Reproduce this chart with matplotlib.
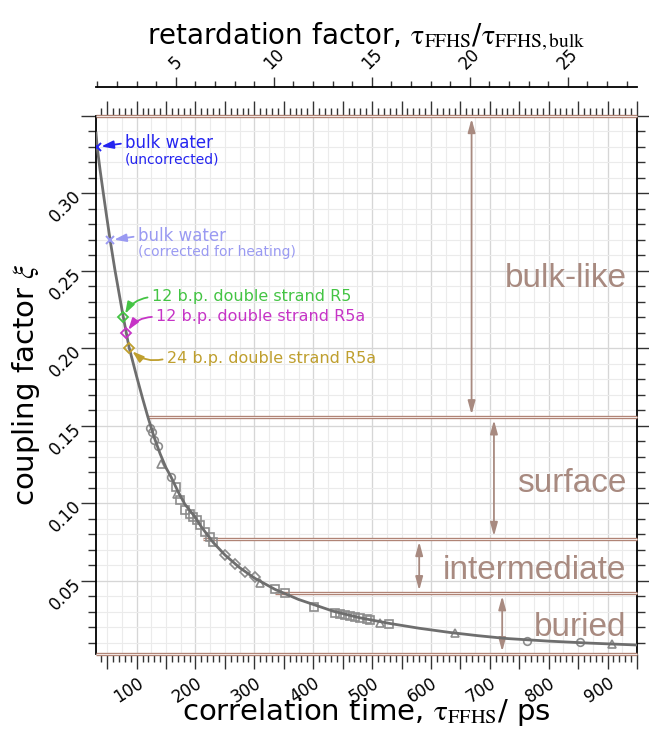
import matplotlib
matplotlib.use('Agg')
import matplotlib.pyplot as plt
from matplotlib.ticker import MultipleLocator, FixedLocator, FuncFormatter
import numpy as np

plt.rcParams['font.family'] = ['DejaVu Sans']
plt.rcParams['mathtext.fontset'] = 'stix'

# FFHS model curve
curve_tau = [31, 33, 38, 43.5, 48, 55, 63, 70, 77, 82, 87, 100, 110, 119, 130, 140,
             150, 158, 170, 182, 199, 210, 230, 250, 275, 301, 335, 375, 434, 480,
             530, 580, 632, 680, 728, 800, 870, 950]
curve_xi = [0.339, 0.330, 0.315, 0.300, 0.288, 0.270, 0.251, 0.236, 0.221, 0.211,
            0.201, 0.182, 0.168, 0.156, 0.1425, 0.132, 0.123, 0.1175, 0.108, 0.0995,
            0.0914, 0.0849, 0.0749, 0.0668, 0.0586, 0.0517, 0.0446, 0.0381, 0.0305,
            0.0262, 0.0226, 0.0195, 0.0168, 0.0147, 0.0129, 0.0112, 0.0099, 0.0087]

# measured spin-label sites (grey, open symbols)
circ_tau = [122.8, 126.7, 130, 135.8, 158.4, 763, 853]
circ_xi = [0.1485, 0.146, 0.141, 0.1373, 0.1173, 0.0115, 0.0104]
tri_tau = [141.4, 168, 309.5, 513, 640.6, 907]
tri_xi = [0.1253, 0.1061, 0.0485, 0.0227, 0.0163, 0.0092]
sq_tau = [166.4, 173.7, 182, 190, 196, 202, 207.6, 216, 224.6, 230, 335, 352, 401,
          437, 445, 454, 462, 471, 479, 491, 496, 529]
sq_xi = [0.1108, 0.1023, 0.0958, 0.093, 0.091, 0.0894, 0.0861, 0.0818, 0.0786,
         0.0754, 0.0446, 0.0425, 0.033, 0.0292, 0.0287, 0.0281, 0.0274, 0.0266,
         0.0259, 0.0253, 0.0248, 0.0221]
dia_tau = [250, 267, 284, 301]
dia_xi = [0.0668, 0.061, 0.056, 0.0528]

# labelled reference samples
bulk_unc = (33, 0.330)
bulk_cor = (54.8, 0.2698)
r5_12 = (77.4, 0.220)
r5a_12 = (82, 0.2097)
r5a_24 = (87.6, 0.200)

tau_bulk = 33.3
top_ticks = [5, 10, 15, 20, 25]

regions = ['bulk-like', 'surface', 'intermediate', 'buried']
bounds = [0.35, 0.1556, 0.0771, 0.0421, 0.0027]
bound_start = [31, 117, 213, 335, 31]
arrow_x = [669, 707, 580, 721]
label_y = [0.2397, 0.1076, 0.0511, 0.0146]

brown = '#a88a80'
grey = '#8c8c8c'

fig = plt.figure(figsize=(6.49, 7.32), dpi=100)
ax = fig.add_axes([96 / 649, 1 - 654.3 / 732, 541 / 649, 538.3 / 732])
ax.set_xlim(31, 950)
ax.set_ylim(0.0027, 0.35)

# grid
for x in np.arange(25, 950, 25):
    ax.axvline(x, color='#ebebeb', lw=0.8, zorder=0)
for x in np.arange(100, 950, 100):
    ax.axvline(x, color='#d6d6d6', lw=0.9, zorder=0)
for y in np.arange(0.01, 0.35, 0.01):
    ax.axhline(y, color='#ebebeb', lw=0.8, zorder=0)
for y in np.arange(0.05, 0.35, 0.05):
    ax.axhline(y, color='#d6d6d6', lw=0.9, zorder=0)

# region boundaries (double brown lines)
for y, x0 in zip(bounds, bound_start):
    ax.plot([x0, 950], [y, y], color='#ad7f70', lw=2.4, solid_capstyle='butt',
            clip_on=False, zorder=3)
    ax.plot([x0, 950], [y, y], color='#f2e6e2', lw=0.8, solid_capstyle='butt',
            clip_on=False, zorder=3)

# region arrows and names
for name, xa, ytop, ybot, yl in zip(regions, arrow_x, bounds[:-1], bounds[1:], label_y):
    ax.annotate('', xy=(xa, ytop), xytext=(xa, ybot),
                arrowprops=dict(arrowstyle='<|-|>,head_length=0.8,head_width=0.22',
                                color=brown, lw=1.3, shrinkA=2, shrinkB=2))
    ax.text(932, yl, name, color=brown, fontsize=24, family='Liberation Sans',
            ha='right', va='baseline')

# data
ax.plot(circ_tau, circ_xi, 'o', mfc='none', mec=grey, ms=5.5, mew=1.2, zorder=3)
ax.plot(tri_tau, tri_xi, '^', mfc='none', mec=grey, ms=5.5, mew=1.2, zorder=3)
ax.plot(sq_tau, sq_xi, 's', mfc='none', mec=grey, ms=5.5, mew=1.2, zorder=3)
ax.plot(dia_tau, dia_xi, 'D', mfc='none', mec=grey, ms=5.5, mew=1.2, zorder=3)
ax.plot(curve_tau, curve_xi, color='#6e6e6e', lw=2, zorder=4)

# labelled samples
blue = '#2424f0'
lblue = '#9a9af2'
green = '#44c444'
magenta = '#c634c6'
gold = '#bf9f2e'
ax.plot(*bulk_unc, 'x', color=blue, ms=6, mew=1.4, zorder=5)
ax.plot(*bulk_cor, 'x', color=lblue, ms=6, mew=1.4, zorder=5)
ax.plot(*r5_12, 'D', mfc='none', mec=green, ms=5, mew=1.3, zorder=5)
ax.plot(*r5a_12, 'D', mfc='none', mec=magenta, ms=5, mew=1.3, zorder=5)
ax.plot(*r5a_24, 'D', mfc='none', mec=gold, ms=5, mew=1.3, zorder=5)

def note(text, xy, xytext, color, rad, size=11.5):
    ax.annotate(text, xy=xy, xytext=xytext, color=color, fontsize=size,
                ha='left', va='center', zorder=6,
                arrowprops=dict(arrowstyle='-|>,head_length=0.6,head_width=0.2',
                                color=color, lw=1.3, shrinkA=1, shrinkB=3,
                                relpos=(0, 0.5),
                                connectionstyle='arc3,rad=%s' % rad))

note('bulk water', bulk_unc, (80.3, 0.3325), blue, 0, 12)
ax.text(80.3, 0.3218, '(uncorrected)', color=blue, fontsize=10, ha='left', va='center')
note('bulk water', bulk_cor, (101.9, 0.2725), lblue, 0, 12)
ax.text(101.9, 0.2620, '(corrected for heating)', color=lblue, fontsize=10,
        ha='left', va='center')
note('12 b.p. double strand R5', r5_12, (125.6, 0.2333), green, 0.3)
note('12 b.p. double strand R5a', r5a_12, (133, 0.2204), magenta, 0.3)
note('24 b.p. double strand R5a', r5a_24, (151.1, 0.1936), gold, -0.3)

# axes styling
for s in ['top', 'bottom']:
    ax.spines[s].set_visible(False)
for s in ['left', 'right']:
    ax.spines[s].set_linewidth(1.3)
ax.xaxis.set_major_locator(MultipleLocator(50))
ax.xaxis.set_minor_locator(MultipleLocator(10))
ax.xaxis.set_major_formatter(FuncFormatter(lambda v, p: '%d' % v if v % 100 == 0 else ''))
ax.yaxis.set_major_locator(MultipleLocator(0.05))
ax.yaxis.set_minor_locator(MultipleLocator(0.01))
ax.yaxis.set_major_formatter(FuncFormatter(lambda v, p: '%.2f' % v if v < 0.34 else ''))
ax.tick_params(which='both', direction='out', top=True, right=True,
               color='#333333', width=1.0)
ax.tick_params(which='major', length=11, labelsize=12)
ax.tick_params(which='minor', length=6)
ax.tick_params(axis='x', which='major', labelrotation=33, pad=3)
ax.tick_params(axis='y', which='major', labelrotation=45, pad=2)
plt.setp(ax.get_xticklabels(), ha='right', rotation_mode='anchor')
plt.setp(ax.get_yticklabels(), ha='right', va='center', rotation_mode='anchor')

secax = ax.secondary_xaxis(1 + 29 / 538.3,
                           functions=(lambda t: t / tau_bulk, lambda r: r * tau_bulk))
secax.xaxis.set_major_locator(FixedLocator(top_ticks))
secax.xaxis.set_minor_locator(FixedLocator(np.arange(1, 29)))
secax.tick_params(which='both', direction='out', color='#333333', width=1.0)
secax.tick_params(which='major', length=7, labelsize=12, labelrotation=45, pad=3)
secax.tick_params(which='minor', length=4.5)
secax.spines['top'].set_linewidth(1.3)
secax.spines['bottom'].set_linewidth(1.3)

fig.text(366.5 / 649, 1 - 37 / 732,
         r'retardation factor, $\mathrm{\tau_{FFHS}}$/$\mathrm{\tau_{FFHS,bulk}}$',
         fontsize=20, ha='center', va='center')
fig.text(366.5 / 649, 1 - 712 / 732, r'correlation time, $\mathrm{\tau_{FFHS}}$/ ps',
         fontsize=21, ha='center', va='center')
fig.text(26 / 649, 1 - 385 / 732, r'coupling factor $\xi$', fontsize=21,
         ha='center', va='center', rotation=90)

fig.savefig('out.png', dpi=100)
